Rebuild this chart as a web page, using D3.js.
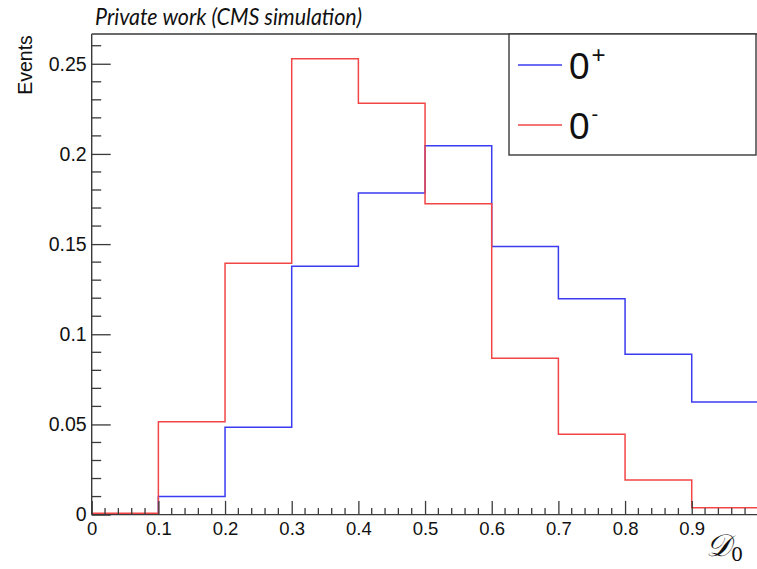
<!DOCTYPE html>
<html>
<head>
<meta charset="utf-8">
<script src="https://cdn.jsdelivr.net/npm/d3@7"></script>
<style>
  html, body { margin: 0; padding: 0; background: #fff; }
  svg { display: block; }
</style>
</head>
<body>
<script>
// Bin edges of the discriminant and normalised event fractions per bin
const binEdges = [0, 0.1, 0.2, 0.3, 0.4, 0.5, 0.6, 0.7, 0.8, 0.9, 1.0];
const scalarPlus = [0.0002, 0.0101, 0.0484, 0.1377, 0.1784, 0.2046, 0.1486, 0.1197, 0.0889, 0.0624];
const pseudoMinus = [0.0008, 0.0515, 0.1394, 0.2528, 0.2281, 0.1724, 0.0867, 0.0445, 0.0192, 0.0038];
const xMajorTicks = [0, 0.1, 0.2, 0.3, 0.4, 0.5, 0.6, 0.7, 0.8, 0.9];
const yMajorTicks = [0, 0.05, 0.1, 0.15, 0.2, 0.25];
const yTickLabels = ["0", "0.05", "0.1", "0.15", "0.2", "0.25"];
const seriesNames = ["0", "0"];
const seriesSup = ["+", "-"];

const W = 757, H = 569;
const frame = { left: 91.7, top: 34, bottom: 514.6, right: 758.4 };

const svg = d3.select("body").append("svg")
  .attr("width", W).attr("height", H);

const x = d3.scaleLinear().domain([0, 1]).range([frame.left, frame.right]);
const y = d3.scaleLinear().domain([0, 0.2665]).range([frame.bottom, frame.top]);

const axisColor = "#3a3a3a";
const labelFont = "'Liberation Sans', Arial, sans-serif";

// frame: top edge
svg.append("line")
  .attr("x1", frame.left).attr("x2", W + 5)
  .attr("y1", frame.top).attr("y2", frame.top)
  .attr("stroke", axisColor).attr("stroke-width", 1.4);

// histogram step outlines
function stepPath(vals) {
  const p = d3.path();
  p.moveTo(x(binEdges[0]), y(0));
  vals.forEach((v, i) => {
    p.lineTo(x(binEdges[i]), y(v));
    p.lineTo(x(binEdges[i + 1]), y(v));
  });
  return p.toString();
}

const blue = "#3b3bf2", red = "#f24646";
svg.append("path")
  .attr("d", stepPath(scalarPlus))
  .attr("fill", "none").attr("stroke", blue).attr("stroke-width", 1.5);
svg.append("path")
  .attr("d", stepPath(pseudoMinus))
  .attr("fill", "none").attr("stroke", red).attr("stroke-width", 1.5);

// x axis (ticks point inward)
const xAxis = d3.axisBottom(x)
  .tickValues(xMajorTicks)
  .tickSize(-13.7)
  .tickPadding(20)
  .tickFormat(d3.format("~g"));
const gx = svg.append("g")
  .attr("transform", `translate(0,${frame.bottom})`)
  .call(xAxis);
gx.select(".domain").attr("stroke", axisColor).attr("stroke-width", 1.4).attr("d", `M${frame.left},0H${W + 5}`);
gx.selectAll(".tick line").attr("stroke", axisColor).attr("stroke-width", 1.3);
gx.selectAll(".tick text")
  .attr("fill", "#111").attr("font-family", labelFont).attr("font-size", 18.5)
  .attr("dy", "0");

const xMinor = d3.range(0, 50).map(i => i * 0.02).filter(v => Math.abs(v * 10 - Math.round(v * 10)) > 1e-6);
svg.append("g").selectAll("line").data(xMinor).join("line")
  .attr("x1", d => x(d)).attr("x2", d => x(d))
  .attr("y1", frame.bottom).attr("y2", frame.bottom - 6.5)
  .attr("stroke", axisColor).attr("stroke-width", 1.3);

// y axis (ticks point inward)
const yAxis = d3.axisLeft(y)
  .tickValues(yMajorTicks)
  .tickSize(-19)
  .tickPadding(5)
  .tickFormat((d, i) => yTickLabels[i]);
const gy = svg.append("g")
  .attr("transform", `translate(${frame.left},0)`)
  .call(yAxis);
gy.select(".domain").attr("stroke", axisColor).attr("stroke-width", 1.4)
  .attr("d", `M0,${frame.bottom}V${frame.top}`);
gy.selectAll(".tick line").attr("stroke", axisColor).attr("stroke-width", 1.3);
gy.selectAll(".tick text")
  .attr("fill", "#111").attr("font-family", labelFont).attr("font-size", 19.5);

const yMinor = d3.range(1, 27).map(i => i * 0.01).filter(v => Math.abs(v * 20 - Math.round(v * 20)) > 1e-6);
svg.append("g").selectAll("line").data(yMinor).join("line")
  .attr("x1", frame.left).attr("x2", frame.left + 9.5)
  .attr("y1", d => y(d)).attr("y2", d => y(d))
  .attr("stroke", axisColor).attr("stroke-width", 1.3);

// y axis title
svg.append("text")
  .attr("transform", `translate(32,${frame.top + 31}) rotate(-90)`)
  .attr("text-anchor", "middle")
  .attr("font-family", labelFont).attr("font-size", 19.5)
  .attr("fill", "#111")
  .text("Events");

// x axis title (discriminant)
const xt = svg.append("text")
  .attr("x", 706).attr("y", 556)
  .attr("font-family", "'DejaVu Serif', serif").attr("font-size", 31)
  .attr("font-style", "italic")
  .attr("fill", "#111");
xt.append("tspan").text("𝒟");
xt.append("tspan").attr("font-size", 19).attr("font-style", "normal").attr("dy", 5).text("0");

// title
svg.append("text")
  .attr("x", 95).attr("y", 25)
  .attr("font-family", "Lato, 'Open Sans', sans-serif").attr("font-style", "italic")
  .attr("font-size", 23).attr("fill", "#111")
  .attr("textLength", 267).attr("lengthAdjust", "spacingAndGlyphs")
  .text("Private work (CMS simulation)");

// legend
const legend = svg.append("g");
legend.append("rect")
  .attr("x", 509).attr("y", frame.top)
  .attr("width", 247).attr("height", 121)
  .attr("fill", "#fff").attr("stroke", axisColor).attr("stroke-width", 1.4);

const legendColors = [blue, red];
const legendRows = [65, 125];
seriesNames.forEach((name, i) => {
  legend.append("line")
    .attr("x1", 518).attr("x2", 562)
    .attr("y1", legendRows[i]).attr("y2", legendRows[i])
    .attr("stroke", legendColors[i]).attr("stroke-width", 1.3);
  const t = legend.append("text")
    .attr("x", 569).attr("y", legendRows[i] + 14)
    .attr("font-family", labelFont).attr("font-size", 37)
    .attr("fill", "#111");
  t.append("tspan").text(name);
  t.append("tspan").attr("font-size", i === 0 ? 24 : 20).attr("dx", 2).attr("dy", i === 0 ? -16 : -18).text(seriesSup[i]);
});
</script>
</body>
</html>
